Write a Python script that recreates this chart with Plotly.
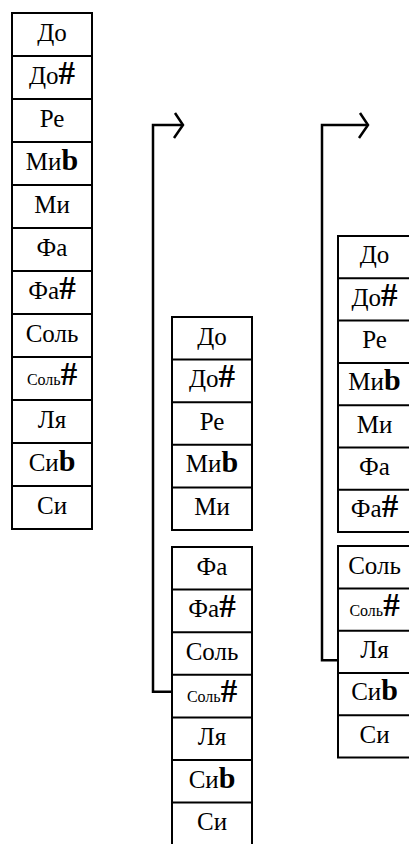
import plotly.graph_objects as go

# ---- data ----
notes_all = ["До", "До#", "Ре", "Миb", "Ми", "Фа", "Фа#", "Соль", "Соль#", "Ля", "Сиb", "Си"]
col2_upper = ["До", "До#", "Ре", "Миb", "Ми"]
col2_lower = ["Фа", "Фа#", "Соль", "Соль#", "Ля", "Сиb", "Си"]
col3_upper = ["До", "До#", "Ре", "Миb", "Ми", "Фа", "Фа#"]
col3_lower = ["Соль", "Соль#", "Ля", "Сиb", "Си"]

W, H = 409, 844
FONT = "Liberation Serif, DejaVu Serif"
SIZE = 25

fig = go.Figure()


def label_html(name, size):
    sharp = f"<span style='font-size:{int(size*1.35)}px'><b>#</b></span>"
    flat = f"<span style='font-size:{int(size*1.2)}px'><b>b</b></span>"
    if name == "Соль#":
        return f"<span style='font-size:{int(size*0.64)}px'>Соль</span>" + sharp
    if name.endswith("#"):
        return name[:-1] + sharp
    if name.endswith("b"):
        return name[:-1] + flat
    return name


def draw_box(names, x0, x1, top, h, size, lw=2):
    n = len(names)
    bottom = top + n * h
    fig.add_shape(type="rect", x0=x0, x1=x1, y0=top, y1=bottom,
                  line=dict(color="black", width=lw), xref="x", yref="y")
    for i in range(1, n):
        fig.add_shape(type="line", x0=x0, x1=x1, y0=top + i * h, y1=top + i * h,
                      line=dict(color="black", width=lw), xref="x", yref="y")
    xs = [(x0 + x1) / 2] * n
    ys = [top + (i + 0.5) * h for i in range(n)]
    fig.add_trace(go.Scatter(
        x=xs, y=ys, mode="text",
        text=[label_html(s, size) for s in names],
        textfont=dict(family=FONT, size=size, color="black"),
        hoverinfo="skip", showlegend=False))
    return bottom


def hook(x, ytop, ybot, xend_top, xend_bot, lw=2.5):
    fig.add_shape(type="path",
                  path=f"M {xend_bot} {ybot} L {x} {ybot} L {x} {ytop} L {xend_top} {ytop}",
                  line=dict(color="black", width=lw), xref="x", yref="y")
    fig.add_shape(type="path",
                  path=f"M {xend_top-8} {ytop-12} L {xend_top} {ytop} L {xend_top-9} {ytop+13}",
                  line=dict(color="black", width=lw), xref="x", yref="y")


# column 1
draw_box(notes_all, 12, 92, 13, 43, SIZE)

# column 2
h2 = 42.6
top2a = 317
draw_box(col2_upper, 172, 252, top2a, h2, SIZE)
top2b = 547
draw_box(col2_lower, 172, 252, top2b, h2, SIZE)
hook(153, 125, top2b + (col2_lower.index("Соль#") + 0.4) * h2, 183, 172)

# column 3
h3 = 42.3
top3a = 236
draw_box(col3_upper, 338, 411, top3a, h3, SIZE)
top3b = top3a + len(col3_upper) * h3 + 14
draw_box(col3_lower, 338, 411, top3b, h3, SIZE)
hook(322, 125, top3b + (col3_lower.index("Ля") + 0.7) * h3, 368, 338)

fig.update_layout(
    width=W, height=H, margin=dict(l=0, r=0, t=0, b=0),
    paper_bgcolor="white", plot_bgcolor="white",
    xaxis=dict(range=[0, W], visible=False, fixedrange=True),
    yaxis=dict(range=[H, 0], visible=False, fixedrange=True),
    showlegend=False,
)

fig.write_html("out.html", config={"displayModeBar": False},
               post_script="document.body.style.margin='0';document.body.style.overflow='hidden';")
